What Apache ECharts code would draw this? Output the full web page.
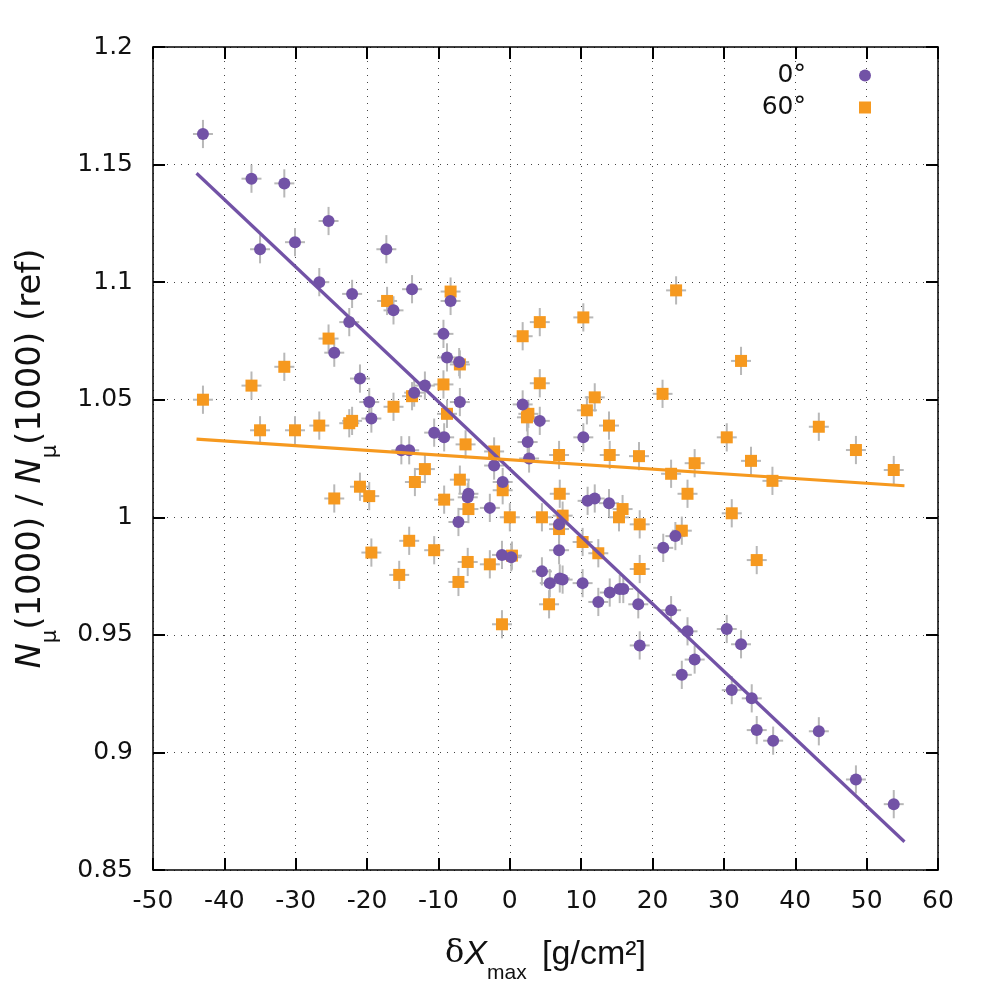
<!DOCTYPE html>
<html>
<head>
<meta charset="utf-8">
<script src="https://cdn.jsdelivr.net/npm/echarts@6/dist/echarts.min.js"></script>
<style>
  html, body { margin: 0; padding: 0; background: #fff; }
  #main { width: 998px; height: 998px; }
</style>
</head>
<body>
<div id="main"></div>
<script>
// 0 deg showers: dXmax and Nmu ratio
var x0 = [-43.0, -36.2, -31.6, -25.4, -35.0, -30.1, -17.3, -26.7, -22.1, -16.3, -22.5, -24.6,
  -21.0, -19.7, -19.4, -15.2, -14.1, -13.7, -8.3, -9.3, -8.8, -7.1, -11.9, -13.4, -7.0,
  1.8, 4.2, 10.3, -10.6, -9.2, 2.5, 2.7, -2.2, -1.0, -5.8, -5.9, -2.8, -7.2, 6.9, 10.9,
  11.9, 13.9, -1.1, 0.2, 6.9, 4.5, 5.6, 7.0, 7.4, 10.2, 23.2, 21.5, 14.0, 15.4, 15.9,
  12.4, 18.0, 22.6, 24.9, 30.4, 32.4, 18.2, 25.9, 24.1, 31.1, 33.9, 34.6, 36.9, 43.3,
  48.5, 53.8];
var y0 = [1.163, 1.144, 1.142, 1.126, 1.114, 1.117, 1.114, 1.100, 1.095, 1.088, 1.083, 1.070,
  1.059, 1.049, 1.042, 1.0285, 1.0285, 1.097, 1.092, 1.078, 1.068, 1.066, 1.056, 1.053, 1.049,
  1.048, 1.041, 1.034, 1.036, 1.034, 1.032, 1.025, 1.022, 1.015, 1.010, 1.0085, 1.004, 0.998, 0.997, 1.007,
  1.008, 1.006, 0.984, 0.983, 0.986, 0.977, 0.972, 0.974, 0.9735, 0.972, 0.992, 0.987, 0.968, 0.9695, 0.9695,
  0.964, 0.963, 0.9605, 0.9515, 0.9525, 0.946, 0.9455, 0.9395, 0.933, 0.9265, 0.923, 0.9095, 0.905, 0.909,
  0.8885, 0.878];

// 60 deg showers
var x60 = [-17.2, -25.4, -31.6, -36.2, -43.0, -16.3, -35.0, -30.1, -26.7, -22.5, -22.1, -24.6,
  -21.0, -19.7, -19.4, -15.5, -8.3, -7.0, 1.8, 4.2, 10.3, 4.2, -13.7, -9.3, -8.8, 2.6, 2.4,
  10.8, -6.2, -2.2, 6.9, -11.9, -13.3, -7.0, -1.0, 7.0, -9.2, -5.8, 0.0, 4.5, 7.4, 6.9, 10.2,
  -14.1, -10.6, 0.3, -5.9, -2.8, -7.2, 5.5, -1.1, 23.3, 32.4, 11.9, 21.4, 13.9, 30.4, 14.0,
  18.1, 25.9, 33.8, 22.6, 36.8, 24.9, 15.8, 15.3, 18.2, 31.1, 24.1, 12.4, 34.6, 18.2, 43.3,
  48.5, 53.8];
var y60 = [1.092, 1.076, 1.064, 1.056, 1.050, 1.047, 1.037, 1.037, 1.039, 1.040, 1.041, 1.008,
  1.013, 1.009, 0.985, 0.9755, 1.096, 1.065, 1.077, 1.083, 1.085, 1.057, 1.0515, 1.0565, 1.044, 1.044, 1.0425,
  1.0455, 1.031, 1.028, 1.0265, 1.0205, 1.015, 1.016, 1.0115, 1.010, 1.0075, 1.0035, 1.000, 1.000, 1.0007, 0.995, 0.9895,
  0.990, 0.986, 0.9837, 0.981, 0.980, 0.9725, 0.963, 0.9545, 1.0965, 1.0665, 1.051, 1.0525, 1.039, 1.034, 1.0265,
  1.026, 1.023, 1.024, 1.0185, 1.0155, 1.010, 1.0035, 1.000, 0.997, 1.0017, 0.9943, 0.9847, 0.9818, 0.978, 1.0385,
  1.0286, 1.0201];

// error bar half widths
var xErr = 1.4;
var yErr = 0.006;

// linear fits (end points)
var fitX = [-43.9, 55.3];
var fit0 = [1.1463, 0.862];
var fit60 = [1.0332, 1.0134];

var purple = '#7252a6';
var orange = '#f6991f';
var tickFont = 'DejaVu Sans';
var xTitleFont = 'Liberation Sans';

function pts(xs, ys) {
  return xs.map(function (x, i) { return [x, ys[i]]; });
}
function errPts(xs, ys) {
  return xs.map(function (x, i) { return [x, ys[i], xErr, yErr]; });
}

function errRender(params, api) {
  var x = api.value(0), y = api.value(1), dx = api.value(2), dy = api.value(3);
  var l = api.coord([x - dx, y]), r = api.coord([x + dx, y]);
  var t = api.coord([x, y + dy]), b = api.coord([x, y - dy]);
  var st = { stroke: '#b8b8b8', lineWidth: 2 };
  return {
    type: 'group',
    children: [
      { type: 'line', shape: { x1: l[0], y1: l[1], x2: r[0], y2: r[1] }, style: st },
      { type: 'line', shape: { x1: t[0], y1: t[1], x2: b[0], y2: b[1] }, style: st }
    ]
  };
}

var myChart = echarts.init(document.getElementById('main'));

var gridLine = { show: true, lineStyle: { color: '#444', width: 1, type: [1, 6] } };
var frameLine = { show: true, onZero: false, lineStyle: { color: '#000', width: 1.5 } };
var inTick = { show: true, inside: true, length: 12, lineStyle: { color: '#000', width: 2 } };

var option = {
  animation: false,
  backgroundColor: '#fff',
  grid: { left: 153, right: 60, top: 47, bottom: 128 },
  legend: {
    orient: 'vertical',
    right: 127,
    top: 63,
    padding: 0,
    align: 'right',
    itemWidth: 12,
    itemHeight: 12,
    itemGap: 7,
    textStyle: { fontFamily: tickFont, fontSize: 25, color: '#111', padding: [0, 48, 0, 0] },
    data: [
      { name: '0°', icon: 'circle' },
      { name: '60°', icon: 'rect' }
    ]
  },
  xAxis: [{
    type: 'value',
    min: -50, max: 60, interval: 10,
    axisLine: frameLine,
    axisTick: inTick,
    axisLabel: { fontFamily: tickFont, fontSize: 25, color: '#111', margin: 19 },
    splitLine: gridLine,
    name: '{d|δ}{i|X}{s|max}{t| [g/cm²]}',
    nameLocation: 'middle',
    nameGap: 68,
    nameTextStyle: {
      fontFamily: xTitleFont, fontSize: 34, color: '#111',
      rich: {
        d: { fontFamily: 'DejaVu Serif', fontSize: 32, lineHeight: 34, verticalAlign: 'top', color: '#111' },
        i: { fontFamily: xTitleFont, fontSize: 34, lineHeight: 34, verticalAlign: 'top', fontStyle: 'italic', color: '#111' },
        s: { fontFamily: xTitleFont, fontSize: 21, lineHeight: 46, verticalAlign: 'bottom', color: '#111', padding: [0, 6, 0, 0] },
        t: { fontFamily: xTitleFont, fontSize: 34, lineHeight: 34, verticalAlign: 'top', color: '#111' }
      }
    }
  }, {
    type: 'value', position: 'top',
    min: -50, max: 60, interval: 10,
    axisLine: frameLine,
    axisTick: inTick,
    axisLabel: { show: false },
    splitLine: { show: false }
  }],
  yAxis: [{
    type: 'value',
    min: 0.85, max: 1.2, interval: 0.05,
    axisLine: frameLine,
    axisTick: inTick,
    axisLabel: {
      fontFamily: tickFont, fontSize: 25, color: '#111', margin: 20,
      formatter: function (v) { return String(+v.toFixed(2)); }
    },
    splitLine: gridLine,
    name: '{i|N}{s|μ}{t|(1000) / }{i|N}{s|μ}{t|(1000) (ref)}',
    nameLocation: 'middle',
    nameGap: 92,
    nameTextStyle: {
      fontFamily: tickFont, fontSize: 34, color: '#111',
      rich: {
        i: { fontFamily: tickFont, fontSize: 34, lineHeight: 34, verticalAlign: 'top', fontStyle: 'italic', color: '#111' },
        s: { fontFamily: tickFont, fontSize: 21, lineHeight: 47, verticalAlign: 'bottom', color: '#111' },
        t: { fontFamily: tickFont, fontSize: 34, lineHeight: 34, verticalAlign: 'top', color: '#111' }
      }
    }
  }, {
    type: 'value', position: 'right',
    min: 0.85, max: 1.2, interval: 0.05,
    axisLine: frameLine,
    axisTick: inTick,
    axisLabel: { show: false },
    splitLine: { show: false }
  }],
  series: [
    {
      type: 'custom', name: 'err0', renderItem: errRender, data: errPts(x0, y0), z: 2,
      silent: true, encode: { x: 0, y: 1 }
    },
    {
      type: 'custom', name: 'err60', renderItem: errRender, data: errPts(x60, y60), z: 2,
      silent: true, encode: { x: 0, y: 1 }
    },
    {
      type: 'scatter', name: '60°', data: pts(x60, y60), symbol: 'rect', symbolSize: 12,
      itemStyle: { color: orange, opacity: 1 }, z: 3
    },
    {
      type: 'scatter', name: '0°', data: pts(x0, y0), symbol: 'circle', symbolSize: 12,
      itemStyle: { color: purple, opacity: 1 }, z: 4
    },
    {
      type: 'line', name: 'fit0', data: pts(fitX, fit0), showSymbol: false, z: 5,
      lineStyle: { color: purple, width: 3.2 }, silent: true
    },
    {
      type: 'line', name: 'fit60', data: pts(fitX, fit60), showSymbol: false, z: 5,
      lineStyle: { color: orange, width: 3.2 }, silent: true
    }
  ]
};

myChart.setOption(option);
</script>
</body>
</html>
